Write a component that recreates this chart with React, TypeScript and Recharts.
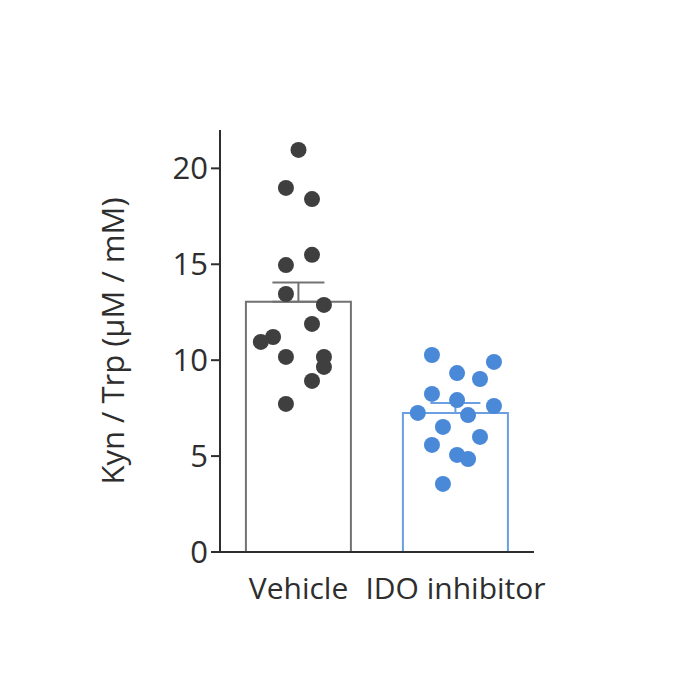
import {
  ComposedChart,
  Bar,
  Cell,
  ErrorBar,
  Scatter,
  XAxis,
  YAxis,
  Label,
} from "recharts";

// group means and SEM
const groups = ["Vehicle", "IDO inhibitor"];
const means = [13.05, 7.25];
const sems = [1.0, 0.52];

// individual animals
const vehicleValues = [20.96, 18.98, 18.4, 15.49, 14.96, 13.45, 12.88, 11.89, 11.21, 10.95, 10.17, 10.17, 9.65, 8.92, 7.72];
const vehicleJitter = [0, -0.08, 0.086, 0.086, -0.08, -0.08, 0.162, 0.086, -0.162, -0.24, -0.08, 0.162, 0.162, 0.086, -0.08];
const idoValues = [10.27, 9.91, 9.33, 9.02, 8.24, 7.92, 7.61, 7.25, 7.14, 6.52, 6.0, 5.58, 5.06, 4.85, 3.55];
const idoJitter = [-0.15, 0.245, 0.01, 0.156, -0.15, 0.01, 0.245, -0.24, 0.08, -0.08, 0.156, -0.15, 0.01, 0.08, -0.08];

const yTicks = [0, 5, 10, 15, 20];

const COLORS = {
  vehicleDot: "#3f3f3f",
  vehicleBar: "#727272",
  idoDot: "#4a88d8",
  idoBar: "#6b9fe2",
  axis: "#2e2e2e",
  text: "#2e2e2e",
};

const FONT = "'Open Sans', sans-serif";

const barData = groups.map((g, i) => ({ group: g, mean: means[i], sem: sems[i] }));
const vehiclePoints = vehicleValues.map((v, i) => ({ x: 0.5 + vehicleJitter[i], y: v }));
const idoPoints = idoValues.map((v, i) => ({ x: 1.5 + idoJitter[i], y: v }));

const dot = (color: string) => (props: any) =>
  <circle cx={props.cx} cy={props.cy} r={8} fill={color} />;

export default function App() {
  return (
    <div style={{ width: 700, height: 700 }}>
      <ComposedChart
        width={700}
        height={700}
        data={barData}
        margin={{ top: 122, right: 174, bottom: 96, left: 102 }}
        barCategoryGap="16.5%"
      >
        <XAxis
          xAxisId="cat"
          dataKey="group"
          type="category"
          height={60}
          tickLine={false}
          tickSize={0}
          tickMargin={26}
          axisLine={{ stroke: COLORS.axis, strokeWidth: 2 }}
          tick={{ fontSize: 30, fill: COLORS.text, fontFamily: FONT }}
          interval={0}
        />
        <XAxis xAxisId="jit" dataKey="x" type="number" domain={[0, 2]} hide />
        <YAxis
          type="number"
          domain={[0, 22]}
          ticks={yTicks}
          width={110}
          tickSize={9}
          tickMargin={3}
          axisLine={{ stroke: COLORS.axis, strokeWidth: 2 }}
          tickLine={{ stroke: COLORS.axis, strokeWidth: 2 }}
          tick={{ fontSize: 31, fill: COLORS.text, fontFamily: FONT }}
        >
          <Label
            value="Kyn / Trp (µM / mM)"
            angle={-90}
            position="insideLeft"
            offset={3}
            style={{ textAnchor: "middle", fontSize: 31, fill: COLORS.text, fontFamily: FONT }}
          />
        </YAxis>
        <Bar xAxisId="cat" dataKey="mean" fill="#ffffff" strokeWidth={2} isAnimationActive={false}>
          <Cell stroke={COLORS.vehicleBar} />
          <Cell stroke={COLORS.idoBar} />
          <ErrorBar
            dataKey={(d: any) => (d.group === "Vehicle" ? [0, d.sem] : null)}
            width={26}
            stroke={COLORS.vehicleBar}
            strokeWidth={2}
            direction="y"
          />
          <ErrorBar
            dataKey={(d: any) => (d.group === "IDO inhibitor" ? [0, d.sem] : null)}
            width={25}
            stroke={COLORS.idoBar}
            strokeWidth={2}
            direction="y"
          />
        </Bar>
        <Scatter
          xAxisId="jit"
          data={vehiclePoints}
          dataKey="y"
          shape={dot(COLORS.vehicleDot)}
          isAnimationActive={false}
        />
        <Scatter
          xAxisId="jit"
          data={idoPoints}
          dataKey="y"
          shape={dot(COLORS.idoDot)}
          isAnimationActive={false}
        />
      </ComposedChart>
    </div>
  );
}
